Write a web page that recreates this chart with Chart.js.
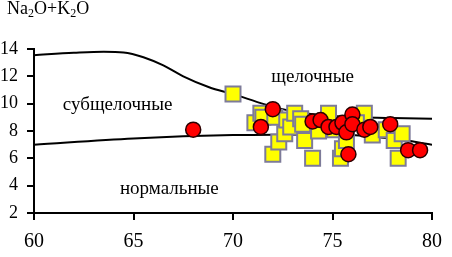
<!DOCTYPE html>
<html>
<head>
<meta charset="utf-8">
<script src="https://cdn.jsdelivr.net/npm/chart.js@4/dist/chart.umd.min.js"></script>
<style>
  html, body { margin: 0; padding: 0; background: #fff; }
  #wrap { width: 452px; height: 257px; position: relative; }
</style>
</head>
<body>
<div id="wrap"><canvas id="tasChart"></canvas></div>
<script>
// SiO2 vs Na2O+K2O
var xTicks = [60, 65, 70, 75, 80];
var yTicks = [2, 4, 6, 8, 10, 12, 14];

// yellow squares
var squaresX = [70.0, 71.1, 71.4, 71.5, 72.1, 72.0, 72.3, 72.6, 72.7, 72.9, 73.1, 73.4, 73.5, 73.6, 74.0,
                74.8, 75.1, 75.4, 75.5, 75.7, 76.6, 77.0, 77.7, 78.1, 78.5, 78.3, 76.2, 74.3];
var squaresY = [10.7, 8.6, 9.3, 9.0, 9.0, 6.3, 7.2, 7.8, 8.8, 8.3, 9.3, 8.9, 8.5, 7.3, 6.0,
                9.3, 8.1, 6.0, 6.7, 7.3, 9.3, 7.7, 8.1, 7.3, 7.8, 6.0, 8.6, 8.0];

// red circles
var circlesX = [68.0, 71.4, 72.0, 74.0, 74.4, 74.8, 75.2, 75.5, 75.7, 76.0, 76.0, 76.6, 76.9, 75.8, 77.9, 78.8, 79.4];
var circlesY = [8.1, 8.3, 9.6, 8.7, 8.8, 8.3, 8.3, 8.6, 7.9, 9.2, 8.5, 8.1, 8.3, 6.3, 8.5, 6.6, 6.6];

// boundary curves
var upperX = [60, 62, 63.5, 64.5, 65.5, 66.5, 67.5, 68.8, 70, 71.6, 73, 75, 78, 80];
var upperY = [13.55, 13.72, 13.8, 13.75, 13.4, 12.8, 12.0, 11.2, 10.7, 9.95, 9.45, 9.1, 8.95, 8.9];
var lowerX = [60, 65, 70, 75, 78, 80];
var lowerY = [7.0, 7.45, 7.7, 7.75, 7.45, 7.0];

var fieldNames = ['щелочные', 'субщелочные', 'нормальные'];

function toPoints(xs, ys) {
  return xs.map(function (x, i) { return { x: x, y: ys[i] }; });
}

// text inside the plot + the y title with subscripts
var labelsPlugin = {
  id: 'fieldLabels',
  afterDatasetsDraw: function (chart) {
    var ctx = chart.ctx;
    var xs = chart.scales.x, ys = chart.scales.y;
    var spots = [[74.0, 11.95], [64.2, 9.9], [66.8, 3.75]];
    ctx.save();
    ctx.fillStyle = '#000';
    ctx.font = '19px "Liberation Serif", "Times New Roman", serif';
    ctx.textAlign = 'center';
    ctx.textBaseline = 'middle';
    fieldNames.forEach(function (t, i) {
      ctx.fillText(t, xs.getPixelForValue(spots[i][0]), ys.getPixelForValue(spots[i][1]));
    });

    // Na2O+K2O
    var parts = [['Na', 0], ['2', 1], ['O+K', 0], ['2', 1], ['O', 0]];
    var x = 7, base = 14;
    ctx.textAlign = 'left';
    ctx.textBaseline = 'alphabetic';
    parts.forEach(function (p) {
      ctx.font = (p[1] ? '12px' : '18px') + ' "Liberation Serif", "Times New Roman", serif';
      ctx.fillText(p[0], x, base + (p[1] ? 3 : 0));
      x += ctx.measureText(p[0]).width;
    });
    ctx.restore();
  }
};

var ctx = document.getElementById('tasChart').getContext('2d');
var tasChart = new Chart(ctx, {
  type: 'scatter',
  data: {
    datasets: [
      {
        data: toPoints(circlesX, circlesY),
        pointStyle: 'circle',
        pointRadius: 7.5,
        backgroundColor: '#ff0000',
        borderColor: '#2a0000',
        borderWidth: 1.5,
        order: 1
      },
      {
        data: toPoints(squaresX, squaresY),
        pointStyle: 'rect',
        pointRadius: 10.6,
        backgroundColor: '#ffff00',
        borderColor: '#7d7b99',
        borderWidth: 2,
        order: 2
      },
      {
        data: toPoints(upperX, upperY),
        showLine: true,
        pointRadius: 0,
        borderColor: '#000',
        borderWidth: 2,
        cubicInterpolationMode: 'monotone',
        order: 3
      },
      {
        data: toPoints(lowerX, lowerY),
        showLine: true,
        pointRadius: 0,
        borderColor: '#000',
        borderWidth: 2,
        cubicInterpolationMode: 'monotone',
        order: 3
      }
    ]
  },
  options: {
    responsive: true,
    maintainAspectRatio: false,
    animation: false,
    layout: { padding: { top: 49, right: 10, left: 0, bottom: 0 } },
    scales: {
      x: {
        type: 'linear',
        min: 60,
        max: 80,
        afterBuildTicks: function (axis) {
          axis.ticks = xTicks.map(function (v) { return { value: v }; });
        },
        afterFit: function (axis) { axis.height = 44; },
        border: { color: '#000', width: 2 },
        grid: { drawOnChartArea: false, drawTicks: true, tickLength: 7, color: '#000', lineWidth: 2 },
        ticks: {
          color: '#000',
          padding: 10,
          maxRotation: 0,
          font: { family: '"Liberation Serif", "Times New Roman", serif', size: 20 }
        }
      },
      y: {
        type: 'linear',
        min: 2,
        max: 14,
        afterBuildTicks: function (axis) {
          axis.ticks = yTicks.map(function (v) { return { value: v }; });
        },
        afterFit: function (axis) { axis.width = 34; },
        border: { color: '#000', width: 2 },
        grid: { drawOnChartArea: false, drawTicks: true, tickLength: 7, color: '#000', lineWidth: 2 },
        ticks: {
          color: '#000',
          padding: 9,
          font: { family: '"Liberation Serif", "Times New Roman", serif', size: 18 }
        }
      }
    },
    plugins: {
      legend: { display: false },
      tooltip: { enabled: false }
    }
  },
  plugins: [labelsPlugin]
});
</script>
</body>
</html>
